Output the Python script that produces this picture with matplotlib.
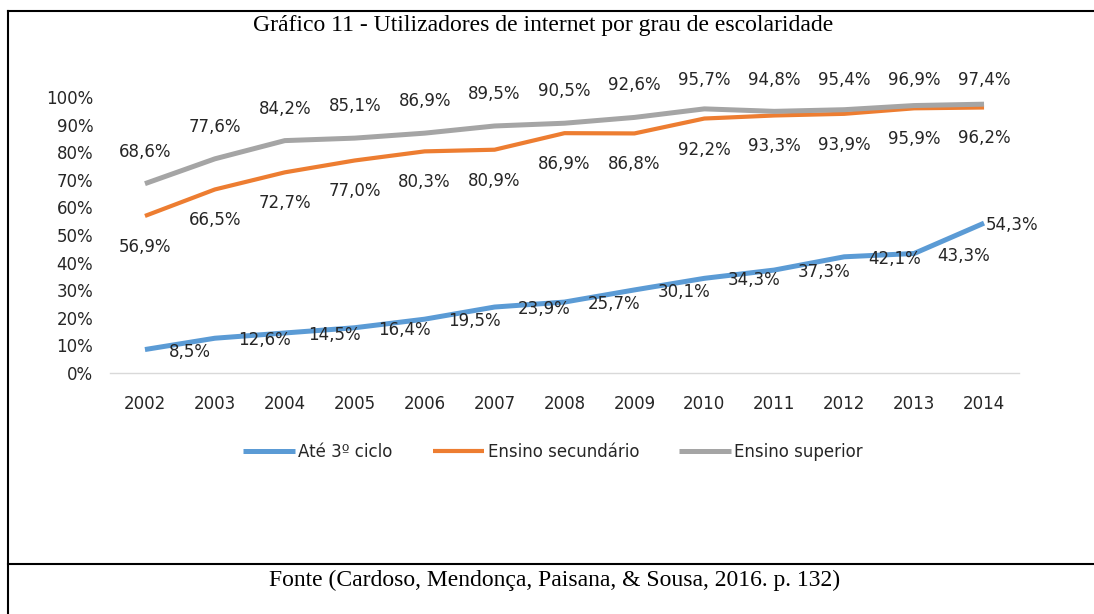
import matplotlib
matplotlib.use("Agg")
import matplotlib.pyplot as plt
from matplotlib import lines

years = [2002, 2003, 2004, 2005, 2006, 2007, 2008, 2009, 2010, 2011, 2012, 2013, 2014]
ate_3_ciclo = [8.5, 12.6, 14.5, 16.4, 19.5, 23.9, 25.7, 30.1, 34.3, 37.3, 42.1, 43.3, 54.3]
ensino_secundario = [56.9, 66.5, 72.7, 77.0, 80.3, 80.9, 86.9, 86.8, 92.2, 93.3, 93.9, 95.9, 96.2]
ensino_superior = [68.6, 77.6, 84.2, 85.1, 86.9, 89.5, 90.5, 92.6, 95.7, 94.8, 95.4, 96.9, 97.4]
series_names = ["Até 3º ciclo", "Ensino secundário", "Ensino superior"]
yticks = [0, 10, 20, 30, 40, 50, 60, 70, 80, 90, 100]

colors = {"blue": "#5B9BD5", "orange": "#ED7D31", "gray": "#A5A5A5"}
text_color = "#262626"
W, H = 1094, 614

plt.rcParams["font.family"] = ["DejaVu Sans"]


def pct(v):
    return f"{v:.1f}%".replace(".", ",")


fig = plt.figure(figsize=(W / 100, H / 100), dpi=100)
ax = fig.add_axes([110 / W, 1 - 373 / H, 909 / W, 276 / H])

ax.plot(years, ate_3_ciclo, color=colors["blue"], lw=3.6,
        solid_joinstyle="round", solid_capstyle="butt", label=series_names[0])
ax.plot(years, ensino_secundario, color=colors["orange"], lw=3.0,
        solid_joinstyle="round", solid_capstyle="butt", label=series_names[1])
ax.plot(years, ensino_superior, color=colors["gray"], lw=3.6,
        solid_joinstyle="round", solid_capstyle="butt", label=series_names[2])

ax.set_xlim(2001.5, 2014.5)
ax.set_ylim(0, 100)
ax.set_xticks(years)
ax.set_xticklabels([str(y) for y in years])
ax.set_yticks(yticks)
ax.set_yticklabels([f"{t}%" for t in yticks])
ax.tick_params(axis="both", length=0, labelsize=12, labelcolor=text_color)
ax.tick_params(axis="x", pad=16)
ax.tick_params(axis="y", pad=12)
for side in ["left", "right", "top"]:
    ax.spines[side].set_visible(False)
ax.spines["bottom"].set_color("#D9D9D9")
ax.spines["bottom"].set_linewidth(1.0)

# data labels (Excel style: superior above, secundario below, 3o ciclo right)
px = 100 / 276  # one pixel in data units
for x, v in zip(years, ensino_superior):
    ax.text(x, min(v + 32 * px, 106.2), pct(v), ha="center", va="center",
            fontsize=12, color=text_color)
for x, v in zip(years, ensino_secundario):
    ax.text(x, v - 31 * px, pct(v), ha="center", va="center",
            fontsize=12, color=text_color)
for i, (x, v) in enumerate(zip(years, ate_3_ciclo)):
    dx = 17 if i < len(years) - 1 else 1.5
    ax.annotate(pct(v), (x, v), xytext=(dx, -1.5), textcoords="offset points",
                ha="left", va="center", fontsize=12, color=text_color)

fig.legend(loc="center", bbox_to_anchor=(553 / W, 1 - 452 / H), ncol=3,
           frameon=False, fontsize=12, handlelength=3.1, handletextpad=0.2,
           columnspacing=2.4, labelcolor=text_color)

fig.text(543 / W, 1 - 26 / H,
         "Gráfico 11 - Utilizadores de internet por grau de escolaridade",
         ha="center", va="center", fontsize=17, family="Liberation Serif")
fig.text(555 / W, 1 - 580 / H,
         "Fonte (Cardoso, Mendonça, Paisana, & Sousa, 2016. p. 132)",
         ha="center", va="center", fontsize=17, family="Liberation Serif")

###############################################################################
# frame lines of the original figure box
bx, by, dy = 8 / W, 1 - 11 / H, 1 - 564 / H
for xs, ys in [([bx, 1], [by, by]), ([bx, bx], [0, by]), ([bx, 1], [dy, dy])]:
    fig.add_artist(lines.Line2D(xs, ys, color="black", lw=1.5))

fig.savefig("out.png", dpi=100)
